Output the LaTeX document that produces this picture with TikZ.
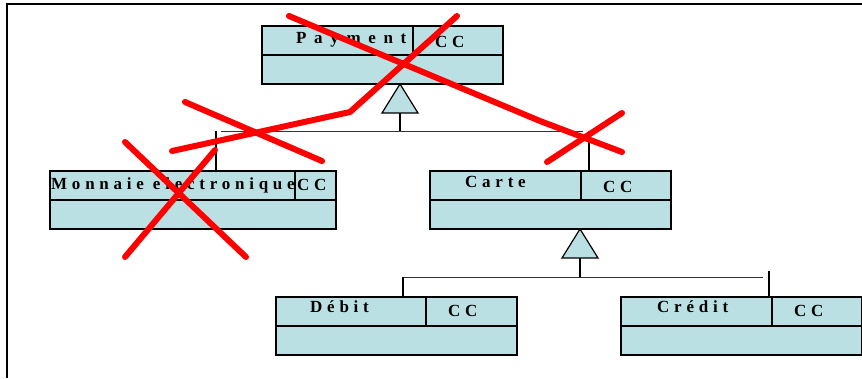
\documentclass[tikz,border=0pt]{standalone}
\usepackage{fontspec}
\usepackage{tikz}
\usetikzlibrary{calc, positioning}
\newfontfamily\umlfont[LetterSpace=28]{Liberation Serif}
\definecolor{classblue}{RGB}{187,224,227}
\definecolor{crossred}{RGB}{255,0,0}

\begin{document}
\begin{tikzpicture}[x=1pt, y=-1pt,
  box/.style={draw=black, fill=classblue, line width=1.3pt, inner sep=0pt,
    outer sep=0pt, anchor=north west, minimum height=29pt},
  clsname/.style={anchor=base west, inner sep=0pt,
    font=\umlfont\bfseries\fontsize{17}{19}\selectfont},
  gen/.style={draw=black, fill=classblue, line width=1.2pt, line join=miter},
  link/.style={black, line width=1.2pt},
  bus/.style={black!80, line width=1pt},
  cross/.style={crossred, line width=6pt, line cap=round, line join=round}]
  \useasboundingbox (0,0) rectangle (862,378);

  % frame (top and left edge only)
  \draw[line width=1.6pt] (7,378) -- (7,4) -- (862,4);

  % Payment
  \node[box, minimum width=151pt] (pay) at (262,26) {};
  \node[box, minimum width=90pt] (pay cc) at (pay.north east) {};
  \node[box, minimum width=241pt] (pay body) at (pay.south west) {};
  \node[clsname] (pay name) at (296,43) {\addfontfeature{LetterSpace=45}Payment};
  \node[clsname] (pay tag) at (435,47) {CC};

  % Monnaie electronique
  \node[box, minimum width=245pt] (mon) at (50,171) {};
  \node[box, minimum width=41pt] (mon cc) at (mon.north east) {};
  \node[box, minimum width=286pt] (mon body) at (mon.south west) {};
  \node[clsname] (mon name) at (51,189) {Monnaie electronique};
  \node[clsname] (mon tag) at (297,190) {CC};

  % Carte
  \node[box, minimum width=151pt] (carte) at (430,171) {};
  \node[box, minimum width=90pt] (carte cc) at (carte.north east) {};
  \node[box, minimum width=241pt] (carte body) at (carte.south west) {};
  \node[clsname] (carte name) at (465,187) {Carte};
  \node[clsname] (carte tag) at (603,192) {CC};

  % Debit
  \node[box, minimum width=150pt] (debit) at (276,297) {};
  \node[box, minimum width=91pt] (debit cc) at (debit.north east) {};
  \node[box, minimum width=241pt] (debit body) at (debit.south west) {};
  \node[clsname] (debit name) at (310,312) {Débit};
  \node[clsname] (debit tag) at (448,316) {CC};

  % Credit
  \node[box, minimum width=151pt] (credit) at (621,297) {};
  \node[box, minimum width=90pt] (credit cc) at (credit.north east) {};
  \node[box, minimum width=241pt] (credit body) at (credit.south west) {};
  \node[clsname] (credit name) at (657,312) {Crédit};
  \node[clsname] (credit tag) at (794,316) {CC};

  % generalisation Payment <- Monnaie, Carte
  \coordinate (tri1) at (400,84);
  \draw[gen] (tri1) -- ++(18,29) coordinate (tri1 base) -- ++(-36,0) -- cycle;
  \coordinate (bus1) at (400,131);
  \coordinate (bus1 w) at (221,131);
  \coordinate (bus1 e) at (583,131);
  \draw[link] (tri1 base -| tri1) -- (bus1);
  \draw[bus] (bus1 w) -- (bus1 e);
  \draw[link] (216,131) coordinate (drop1) -- (drop1 |- mon.north);
  \draw[link] (589,131) coordinate (drop2) -- (drop2 |- carte.north);

  % generalisation Carte <- Debit, Credit
  \coordinate (tri2) at (580,229);
  \draw[gen] (tri2) -- ++(18,29) coordinate (tri2 base) -- ++(-36,0) -- cycle;
  \coordinate (bus2) at (580,277);
  \coordinate (bus2 w) at (403,277);
  \coordinate (bus2 e) at (763,277);
  \draw[link] (tri2 base -| tri2) -- (bus2);
  \draw[bus] (bus2 w) -- (bus2 e);
  \draw[link] (bus2 w) -- (bus2 w |- debit.north);
  \draw[link] (769,271) coordinate (drop3) -- (drop3 |- credit.north);

  % red strike-outs
  \draw[cross] (289,16) -- (540,121) -- (622,152);
  \draw[cross] (457,16) -- (350,112) -- (172,151);
  \draw[cross] (185,102) -- (322,161);
  \draw[cross] (547,162) -- (622,113);
  \draw[cross] (125,142) -- (246,257);
  \draw[cross] (215,150) -- (125,257);
\end{tikzpicture}
\end{document}
